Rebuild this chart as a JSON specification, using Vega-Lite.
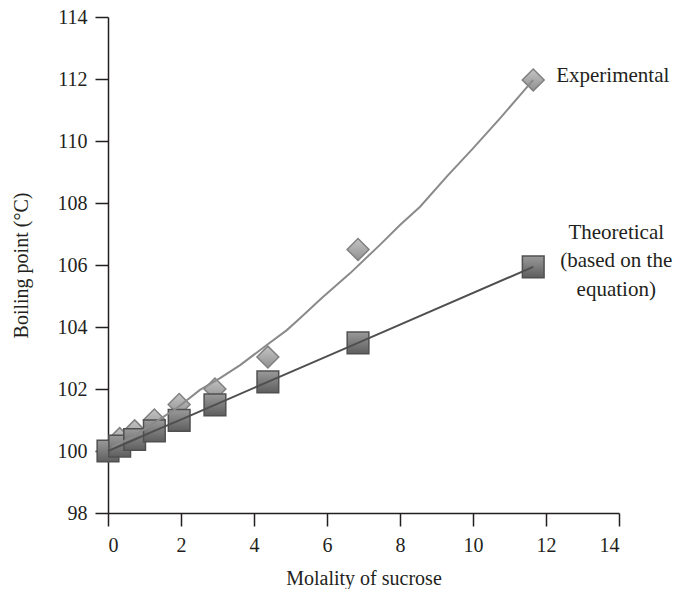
{
  "$schema": "https://vega.github.io/schema/vega-lite/v6.json",
  "autosize": "none",
  "width": 511,
  "height": 496,
  "padding": {"left": 108, "top": 17, "right": 59, "bottom": 76},
  "background": "white",
  "config": {
    "view": {"stroke": null},
    "font": "Liberation Serif",
    "axis": {
      "grid": false,
      "labelFont": "Liberation Serif",
      "titleFont": "Liberation Serif",
      "labelFontSize": 20,
      "titleFontSize": 20,
      "titleFontWeight": "normal",
      "labelColor": "#231f20",
      "titleColor": "#231f20",
      "domainColor": "#231f20",
      "tickColor": "#231f20",
      "domainWidth": 1.5,
      "tickWidth": 1.5,
      "tickSize": 13
    }
  },
  "datasets": {
    "experimental": [
      {"molality": 0, "bp": 100.0},
      {"molality": 0.32, "bp": 100.4},
      {"molality": 0.73, "bp": 100.65},
      {"molality": 1.27, "bp": 101.0},
      {"molality": 1.95, "bp": 101.5},
      {"molality": 2.93, "bp": 102.0},
      {"molality": 4.38, "bp": 103.03},
      {"molality": 6.85, "bp": 106.5},
      {"molality": 11.65, "bp": 111.97}
    ],
    "theoretical": [
      {"molality": 0, "bp": 100.0},
      {"molality": 0.32, "bp": 100.16},
      {"molality": 0.73, "bp": 100.37},
      {"molality": 1.27, "bp": 100.65},
      {"molality": 1.95, "bp": 100.99},
      {"molality": 2.93, "bp": 101.49},
      {"molality": 4.38, "bp": 102.23},
      {"molality": 6.85, "bp": 103.49},
      {"molality": 11.65, "bp": 105.94}
    ],
    "trend": [
      {"molality": 0.08, "bp": 100.03},
      {"molality": 0.15, "bp": 100.14},
      {"molality": 0.69, "bp": 100.46},
      {"molality": 1.24, "bp": 100.89},
      {"molality": 1.88, "bp": 101.38},
      {"molality": 2.52, "bp": 101.97},
      {"molality": 3.07, "bp": 102.35},
      {"molality": 3.62, "bp": 102.77},
      {"molality": 4.35, "bp": 103.42},
      {"molality": 4.9, "bp": 103.9},
      {"molality": 5.26, "bp": 104.28},
      {"molality": 5.85, "bp": 104.93},
      {"molality": 6.63, "bp": 105.73},
      {"molality": 7.45, "bp": 106.65},
      {"molality": 8.0, "bp": 107.29},
      {"molality": 8.55, "bp": 107.88},
      {"molality": 9.28, "bp": 108.85},
      {"molality": 10.0, "bp": 109.76},
      {"molality": 10.74, "bp": 110.73},
      {"molality": 11.29, "bp": 111.48},
      {"molality": 11.65, "bp": 111.97}
    ],
    "labels": [
      {"molality": 11.65, "bp": 111.97, "series": "exp", "label": "Experimental"},
      {"molality": 11.65, "bp": 105.94, "series": "theo", "label": ["Theoretical", "(based on the", "equation)"]}
    ]
  },
  "encoding": {
    "x": {
      "field": "molality",
      "type": "quantitative",
      "scale": {"domain": [0, 14], "nice": false, "zero": false},
      "axis": {"title": "Molality of sucrose", "values": [0, 2, 4, 6, 8, 10, 12, 14], "labelPadding": 9, "titlePadding": 13}
    },
    "y": {
      "field": "bp",
      "type": "quantitative",
      "scale": {"domain": [98, 114], "nice": false, "zero": false},
      "axis": {"title": "Boiling point (°C)", "values": [98, 100, 102, 104, 106, 108, 110, 112, 114], "labelPadding": 8, "titlePadding": 26}
    }
  },
  "layer": [
    {
      "data": {"name": "experimental"},
      "mark": {
        "type": "point",
        "shape": "diamond",
        "size": 480,
        "filled": true,
        "opacity": 1,
        "fill": {"gradient": "linear", "x1": 0, "y1": 0, "x2": 0, "y2": 1, "stops": [{"offset": 0, "color": "#c4c4c4"}, {"offset": 1, "color": "#909090"}]},
        "stroke": "#808080",
        "strokeWidth": 1.5
      }
    },
    {
      "data": {"name": "theoretical"},
      "mark": {
        "type": "point",
        "shape": "square",
        "size": 470,
        "filled": true,
        "opacity": 1,
        "fill": {"gradient": "linear", "x1": 0, "y1": 0, "x2": 0, "y2": 1, "stops": [{"offset": 0, "color": "#9a9a9a"}, {"offset": 1, "color": "#5e5e5e"}]},
        "stroke": "#505050",
        "strokeWidth": 1.5
      }
    },
    {
      "data": {"name": "trend"},
      "mark": {"type": "line", "color": "#8a8a8a", "strokeWidth": 2}
    },
    {
      "data": {"name": "theoretical"},
      "mark": {"type": "line", "color": "#4f4f4f", "strokeWidth": 2}
    },
    {
      "data": {"name": "labels"},
      "transform": [{"filter": "datum.series === 'exp'"}],
      "mark": {"type": "text", "align": "left", "baseline": "middle", "dx": 23, "dy": -4, "fontSize": 21, "color": "#231f20"},
      "encoding": {"text": {"field": "label"}}
    },
    {
      "data": {"name": "labels"},
      "transform": [{"filter": "datum.series === 'theo'"}],
      "mark": {"type": "text", "align": "center", "baseline": "middle", "dx": 83, "dy": -34, "fontSize": 21, "lineHeight": 28.5, "color": "#231f20"},
      "encoding": {"text": {"field": "label"}}
    }
  ]
}
